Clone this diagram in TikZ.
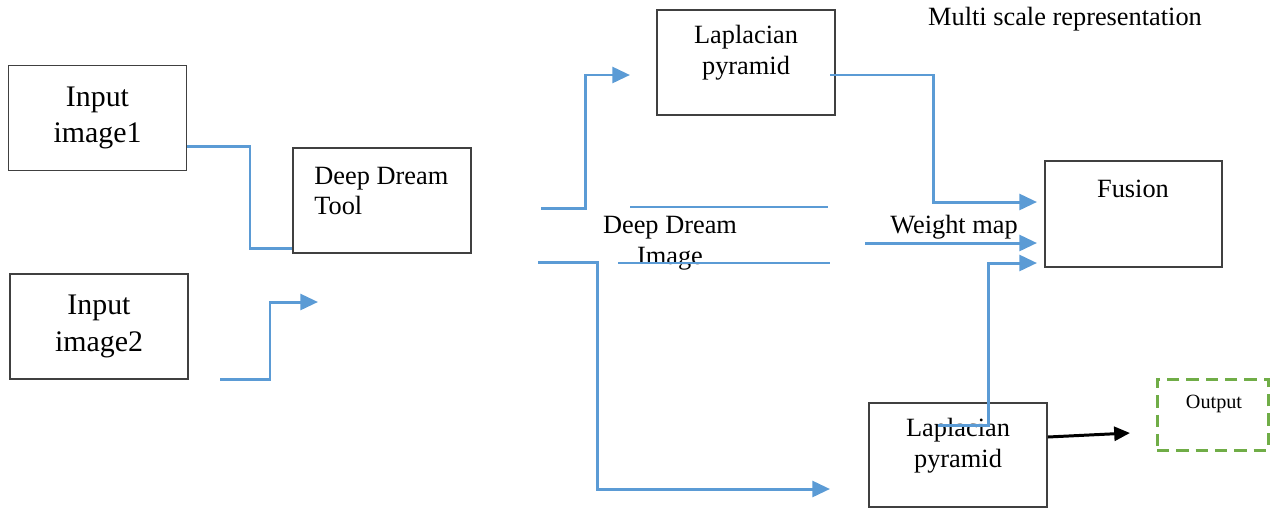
\documentclass[tikz,border=0pt]{standalone}
\usepackage{fontspec}
\setmainfont{Liberation Serif}
\usepackage{xcolor}
\usepackage{tikz}
\usetikzlibrary{positioning,arrows.meta}

\definecolor{flowblue}{HTML}{5B9BD5}
\definecolor{outgreen}{HTML}{70AD47}

\begin{document}
\begin{tikzpicture}[x=0.02cm,y=-0.02cm,
      box/.style={rectangle,draw=black!75,line width=1pt,minimum width=178*0.02cm,minimum height=105*0.02cm,inner sep=0pt,align=center},
      txt/.style={inner sep=0pt,align=center,font=\fontsize{15}{17.5}\selectfont},
      flow/.style={draw=flowblue,line width=1.7pt},
      flowarr/.style={flow,-{Triangle[length=10pt,width=9pt]}},
      guide/.style={draw=flowblue,line width=0.7pt}]
      \useasboundingbox (0,0) rectangle (1274,508);
      % boxes
      \node[box,font=\fontsize{17}{20.6}\selectfont] (in1) at (97.5,118) {Input\\image1};
      \node[box,font=\fontsize{17}{20.6}\selectfont] (in2) at (99,326.5) {Input\\image2};
      \node[box] (tool) at (382,200.5) {};
      \node[txt,anchor=west,align=left] (toolt) at (314,191) {Deep Dream\\Tool};
      \node[box] (lap1) at (746,62.5) {};
      \node[txt] (lap1t) at (746,53) {Laplacian\\pyramid};
      \node[box,minimum width=177*0.02cm,minimum height=106*0.02cm] (fus) at (1133.5,214) {};
      \node[txt] (fust) at (1133,189) {Fusion};
      \node[box,minimum height=104*0.02cm] (lap2) at (958,455) {};
      \node[txt] (lap2t) at (958,446) {Laplacian\\pyramid};
      \node[rectangle,draw=outgreen,line width=1.7pt,dash pattern=on 7pt off 4pt,minimum width=111*0.02cm,minimum height=71*0.02cm] (out) at (1212.5,414.5) {};
      \node[txt,font=\fontsize{11.5}{13}\selectfont] (outt) at (1214,404) {Output};
      % free labels
      \node[txt] (ms) at (1065,19) {Multi scale representation};
      \node[txt] (ddi) at (670,243) {Deep Dream\\Image};
      \node[txt] (wm) at (954,227) {Weight map};
      % guide lines
      \coordinate (g1a) at (630,207); \coordinate (g1b) at (828,207);
      \coordinate (g2a) at (618,263); \coordinate (g2b) at (830,263);
      \draw[guide] (g1a) -- (g1b);
      \draw[guide] (g2a) -- (g2b);
      % connectors
      \coordinate (s2) at (220,379); \coordinate (e2) at (318,302);
      \coordinate (s3) at (541,208); \coordinate (e3) at (630,75);
      \coordinate (s4) at (830,75); \coordinate (e4) at (1037,202);
      \coordinate (s5) at (865,243); \coordinate (e5) at (1037,243);
      \coordinate (s6) at (938,425); \coordinate (e6) at (1037,263);
      \coordinate (s7) at (538,262); \coordinate (e7) at (830,489);
      \draw[flow] (in1.east |- 0,146) -| (250,248) -- (tool.west |- 0,248);
      \draw[flowarr] (s2) -| (270,302) -- (e2);
      \draw[flowarr] (s3) -| (585,75) -- (e3);
      \draw[flowarr] (s4) -| (933,202) -- (e4);
      \draw[flowarr] (s5) -- (e5);
      \draw[flowarr] (s6) -| (988,263) -- (e6);
      \draw[flowarr] (s7) -| (597,489) -- (e7);
      \draw[line width=1.7pt,-{Triangle[length=9pt,width=8pt]}] (lap2.east |- 0,437) -- (1130,433);
    \end{tikzpicture}
\end{document}
